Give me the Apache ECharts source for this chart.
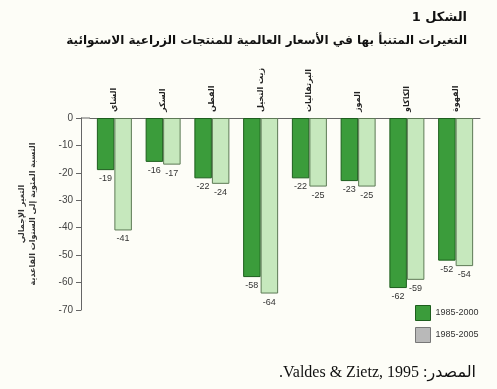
<!DOCTYPE html>
<html>
<head>
<meta charset="utf-8">
<script src="https://cdn.jsdelivr.net/npm/echarts@6/dist/echarts.min.js"></script>
<style>
html,body{margin:0;padding:0;background:#fdfdf7;}
#c{width:497px;height:389px;}
</style>
</head>
<body>
<div id="c"></div>
<script>
var categories = ['الشاي','السكر','القطن','زيت النخيل','البرتقاليات','الموز','الكاكاو','القهوة'];
var series2000 = [-19,-16,-22,-58,-22,-23,-62,-52];
var series2005 = [-41,-17,-24,-64,-25,-25,-59,-54];
var seriesNames = ['1985-2000','1985-2005'];
var yTicks = {min:-70, max:0, interval:10};

var chart = echarts.init(document.getElementById('c'));
var labelStyle = {show:true, position:'bottom', distance:4, fontSize:9, color:'#333', fontFamily:'Liberation Sans, Arial'};
chart.setOption({
  backgroundColor:'#fdfdf7',
  animation:false,
  title:[
    {text:'الشكل 1', right:25, top:6, textStyle:{fontFamily:'DejaVu Sans', fontSize:13, fontWeight:'bold', color:'#111'}},
    {text:'التغيرات المتنبأ بها في الأسعار العالمية للمنتجات الزراعية الاستوائية', right:25, top:30, textStyle:{fontFamily:'DejaVu Sans', fontSize:12, fontWeight:'bold', color:'#111'}},
    {text:'.Valdes & Zietz, 1995 :المصدر', right:16, top:360, textStyle:{fontFamily:'Liberation Serif, DejaVu Sans', fontSize:16, fontWeight:'normal', color:'#111'}}
  ],
  grid:{left:90, right:17, top:118, bottom:79},
  legend:{
    orient:'vertical', left:410, top:300, itemWidth:15, itemHeight:15, itemGap:6,
    textStyle:{fontSize:9, color:'#333', fontFamily:'Liberation Sans, Arial'},
    data:[
      {name:seriesNames[0], icon:'rect', itemStyle:{color:'#3b9c3b', borderColor:'#1d5e1d', borderWidth:1}},
      {name:seriesNames[1], icon:'rect', itemStyle:{color:'#b9b9b9', borderColor:'#777', borderWidth:1}}
    ]
  },
  xAxis:{
    type:'category', data:categories, position:'top',
    axisLine:{lineStyle:{color:'#666', width:1}},
    axisTick:{show:false},
    axisLabel:{rotate:90, fontSize:8, fontWeight:'bold', color:'#222', margin:6, fontFamily:'DejaVu Sans'}
  },
  yAxis:{
    type:'value', min:yTicks.min, max:yTicks.max, interval:yTicks.interval, offset:9,
    name:'التغير الإجمالي\nالنسبة المئوية إلى السنوات القاعدية',
    nameLocation:'middle', nameRotate:90, nameGap:43,
    nameTextStyle:{fontSize:8, fontWeight:'bold', color:'#333', fontFamily:'DejaVu Sans', lineHeight:11},
    axisLine:{show:true, lineStyle:{color:'#666'}},
    axisTick:{show:true, length:5, lineStyle:{color:'#666'}},
    axisLabel:{fontSize:10, color:'#444', margin:8, fontFamily:'Liberation Sans, Arial'},
    splitLine:{show:false}
  },
  graphic:[{type:'line', shape:{x1:81, y1:118, x2:90, y2:118}, style:{stroke:'#666', lineWidth:1}}],
  series:[
    {name:seriesNames[0], type:'bar', data:series2000, barWidth:17.5, barGap:'0%',
     itemStyle:{color:'#3b9c3b', borderColor:'#1d5e1d', borderWidth:1}, label:labelStyle},
    {name:seriesNames[1], type:'bar', data:series2005, barWidth:17.5, barGap:'0%',
     itemStyle:{color:'#c6e8bd', borderColor:'#5d7a55', borderWidth:1}, label:labelStyle}
  ]
});
</script>
</body>
</html>
